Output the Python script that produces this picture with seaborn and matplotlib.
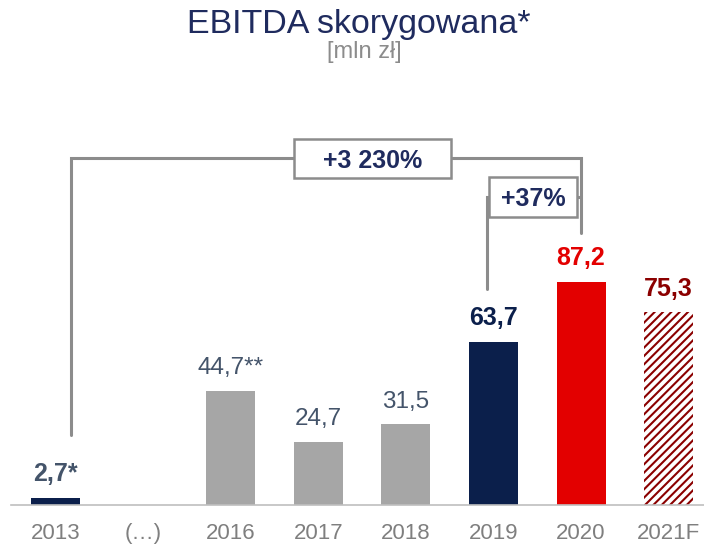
import numpy as np
import pandas as pd
import matplotlib
matplotlib.use("Agg")
import matplotlib.pyplot as plt
import seaborn as sns
from matplotlib.patches import Rectangle

# ---- data ----
categories = ["2013", "(…)", "2016", "2017", "2018", "2019", "2020", "2021F"]
values = [2.7, np.nan, 44.7, 24.7, 31.5, 63.7, 87.2, 75.3]
value_labels = ["2,7*", "", "44,7**", "24,7", "31,5", "63,7", "87,2", "75,3"]
bar_colors = ["#0B1F4B", "#FFFFFF", "#A6A6A6", "#A6A6A6", "#A6A6A6",
              "#0B1F4B", "#E30000", "#FFFFFF"]
label_colors = ["#44546A", "#44546A", "#44546A", "#44546A", "#44546A",
                "#0B1F4B", "#E30000", "#8B0000"]
label_bold = [True, False, False, False, False, True, True, True]
growth_labels = ["+3 230%", "+37%"]
forecast_category = "2021F"

sns.set_theme(style="white")
plt.rcParams['font.family'] = ['Liberation Sans', 'DejaVu Sans']
plt.rcParams['hatch.linewidth'] = 1.5

W, H = 704, 546
SCALE = 2.557      # pixels per unit
STEP = 87.6        # pixels per category
X0 = 55.5          # pixel x of first category
BASE = 505         # pixel y of baseline

fig = plt.figure(figsize=(W / 100, H / 100), dpi=100)
ax = fig.add_axes([11 / W, (H - BASE) / H, (W - 11) / W, BASE / H])

df = pd.DataFrame({"cat": categories, "val": values})
sns.barplot(data=df, x="cat", y="val", hue="cat", order=categories,
            hue_order=categories,
            palette=dict(zip(categories, bar_colors)),
            legend=False, width=0.56, saturation=1, ax=ax)

fc_idx = categories.index(forecast_category)
for p in ax.patches:
    p.set_linewidth(0)
    cx = p.get_x() + p.get_width() / 2
    if abs(cx - fc_idx) < 0.3:
        p.set_facecolor("white")
        p.set_edgecolor("#8B0000")
        p.set_hatch("////")
        p.set_linewidth(0)

ax.set_xlim((11 - X0) / STEP, (W - X0) / STEP)
ax.set_ylim(0, BASE / SCALE)

# value labels
for i, (v, lab) in enumerate(zip(values, value_labels)):
    if np.isnan(v):
        continue
    ax.text(i, v + 6.5, lab, ha="center", va="baseline",
            fontsize=18 if label_bold[i] else 17.5,
            fontweight="bold" if label_bold[i] else "normal",
            color=label_colors[i])

# axes styling
ax.set_xticks(range(len(categories)))
ax.set_xticklabels(categories, fontsize=16, color="#7F7F7F")
ax.tick_params(axis="x", length=0, pad=13)
ax.set_yticks([])
ax.set_xlabel("")
ax.set_ylabel("")
for s in ["left", "right", "top"]:
    ax.spines[s].set_visible(False)
ax.spines["bottom"].set_color("#BFBFBF")
ax.spines["bottom"].set_linewidth(1.2)


def xd(px):
    return (px - X0) / STEP


def yd(py):
    return (BASE - py) / SCALE


LC = "#8C8C8C"
# big bracket 2013 -> 2020
i0, i1, i2 = 0, categories.index("2019"), categories.index("2020")
top1 = yd(158)
ax.plot([i0 + 0.18, i0 + 0.18, i2, i2],
        [values[i0] + 24.7, top1, top1, values[i2] + 19],
        color=LC, lw=2.2, solid_joinstyle="miter", clip_on=False, zorder=3)
# small bracket 2019 -> 2020
top2 = yd(197)
ax.plot([i1 - 0.075, i1 - 0.075, i2],
        [values[i1] + 20.8, top2, top2],
        color=LC, lw=2.2, solid_joinstyle="miter", clip_on=False, zorder=3)

# boxes
for (xa, xb, ya, yb, txt) in [(294, 451, 178, 139, growth_labels[0]),
                              (489, 577, 217, 177, growth_labels[1])]:
    ax.add_patch(Rectangle((xd(xa), yd(ya)), xd(xb) - xd(xa), yd(yb) - yd(ya),
                           facecolor="white", edgecolor=LC, lw=1.8,
                           zorder=4, clip_on=False))
    ax.text((xd(xa) + xd(xb)) / 2, (yd(ya) + yd(yb)) / 2, txt,
            ha="center", va="center_baseline", fontsize=18,
            fontweight="bold", color="#1F2B5E", zorder=5)

# title
fig.text(359 / W, 1 - 33 / H, "EBITDA skorygowana*", ha="center",
         va="baseline", fontsize=24.5, color="#1F2B5E")
fig.text(364 / W, 1 - 58 / H, "[mln zł]", ha="center", va="baseline",
         fontsize=17, color="#8C8C8C")

fig.savefig("out.png", dpi=100)
